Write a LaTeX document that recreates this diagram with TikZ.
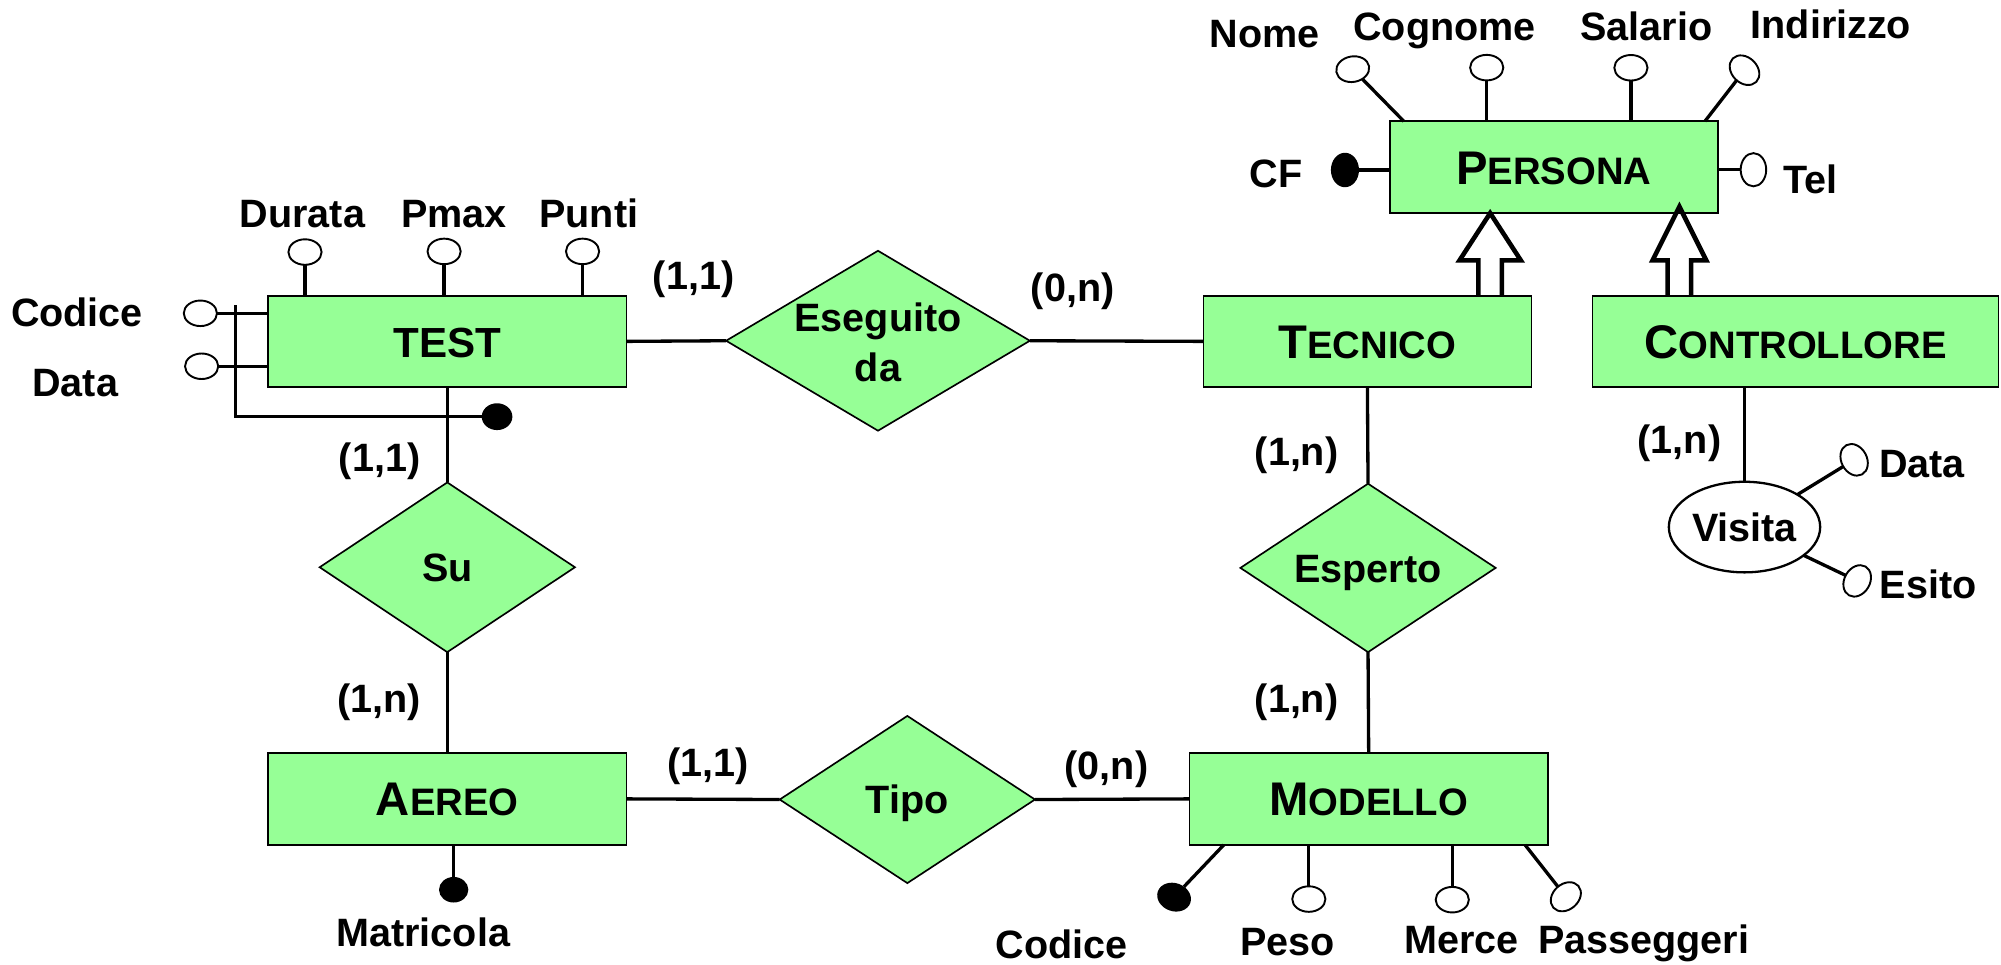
\documentclass[tikz,border=0pt]{standalone}
\usepackage{fontspec}
\setmainfont{Liberation Sans}
\usetikzlibrary{shapes.geometric,calc}
\definecolor{egreen}{RGB}{150,255,150}
\newcommand\lblfont{\fontsize{31pt}{37pt}\selectfont\bfseries}
\newcommand\entfont{\fontsize{30pt}{36pt}\selectfont\bfseries}
\newcommand\firstcap[1]{{\fontsize{37pt}{40pt}\selectfont #1}}
\begin{document}
\begin{tikzpicture}[x=1pt,y=-1pt,
  ent/.style={draw, line width=1.3pt, fill=egreen, minimum height=72pt, inner sep=0pt, outer sep=0pt, font=\entfont, text height=26.5pt, text depth=0pt},
  rel/.style={diamond, aspect=1.5, draw, line width=1.3pt, fill=egreen, inner sep=0pt, outer sep=0pt, font=\lblfont, text height=22.2pt, text depth=0pt},
  att/.style={ellipse, draw, line width=1.5pt, fill=white, minimum width=26pt, minimum height=20pt, inner sep=0pt, outer sep=0pt},
  keyatt/.style={ellipse, fill=black, minimum width=24pt, minimum height=21pt, inner sep=0pt, outer sep=0pt},
  lbl/.style={font=\lblfont, text height=22.2pt, text depth=0pt, inner sep=0pt},
  conn/.style={line width=2.6pt},
  isa/.style={line width=3.6pt, line join=miter, miter limit=10}
]
\useasboundingbox (0,0) rectangle (1568,756);

% entities
\node[ent, minimum width=281pt, minimum height=71pt, text height=24.5pt] (test) at (350.5,267.5) {\fontsize{33pt}{38pt}\selectfont TEST};
\node[ent, minimum width=281pt] (aereo) at (350.5,626) {\firstcap{A}EREO};
\node[ent, minimum width=281pt] (modello) at (1072.5,626) {\firstcap{M}ODELLO};
\node[ent, minimum width=257pt, minimum height=71pt] (tecnico) at (1071.5,267.5) {\firstcap{T}ECNICO};
\node[ent, minimum width=318pt, minimum height=71pt] (controllore) at (1407,267.5) {\firstcap{C}ONTROLLORE};
\node[ent, minimum width=257pt] (persona) at (1217.5,131) {\firstcap{P}ERSONA};

% relationships
\node[rel, minimum width=238pt, minimum height=141pt] (esg) at (688,267) {};
\node[lbl] (esgA) at (688,249) {Eseguito};
\node[lbl] (esgB) at (688,288) {da};
\node[rel, minimum width=200pt, minimum height=133pt] (su) at (350.5,444.5) {Su};
\node[rel, minimum width=200pt, minimum height=131pt] (tipo) at (711,626.5) {Tipo};
\node[rel, minimum width=200pt, minimum height=132pt] (esperto) at (1072,445) {Esperto};
\node[ellipse, draw, line width=1.8pt, fill=white, minimum width=118.6pt, minimum height=71pt, inner sep=0pt, outer sep=0pt, font=\lblfont, text height=22.2pt, text depth=0pt] (visita) at (1367,413) {Visita};

% relationship connectors
\draw[conn] (test.east) -- (esg.west);
\draw[conn] (esg.east) -- (tecnico.west);
\draw[conn] (test.south) -- (su.north);
\draw[conn] (su.south) -- (aereo.north);
\draw[conn] (aereo.east) -- (tipo.west);
\draw[conn] (tipo.east) -- (modello.west);
\draw[conn] (tecnico.south) -- (esperto.north);
\draw[conn] (esperto.south) -- (modello.north);
\draw[conn] (visita.north |- controllore.south) -- (visita.north);

% cardinalities
\node[lbl] (c1) at (543.5,215.5) {(1,1)};
\node[lbl] (c2) at (840.5,225) {(0,n)};
\node[lbl] (c3) at (297.4,358.5) {(1,1)};
\node[lbl] (c4) at (297,547) {(1,n)};
\node[lbl] (c5) at (555,597) {(1,1)};
\node[lbl] (c6) at (867,600) {(0,n)};
\node[lbl] (c7) at (1016,354) {(1,n)};
\node[lbl] (c8) at (1016,547) {(1,n)};
\node[lbl] (c9) at (1316,344.5) {(1,n)};

% TEST attributes
\node[att] (dur) at (239,197.5) {};
\node[att] (pmax) at (348,197) {};
\node[att] (punti) at (456.5,197) {};
\node[att] (tcod) at (157,245.5) {};
\node[att] (tdat) at (158,287) {};
\node[keyatt] (tid) at (389.5,326.5) {};
\coordinate (idtop) at (184.5,239);
\draw[conn] (dur.south) -- (dur.south |- test.north);
\draw[conn] (pmax.south) -- (pmax.south |- test.north);
\draw[conn] (punti.south) -- (punti.south |- test.north);
\draw[conn] (tcod.east) -- (tcod.east -| test.west);
\draw[conn] (tdat.east) -- (tdat.east -| test.west);
\draw[conn] (idtop) |- (tid.west);
\node[lbl] (lDurata) at (237,167.2) {Durata};
\node[lbl] (lPmax) at (355.9,167) {Pmax};
\node[lbl] (lPunti) at (461.4,167) {Punti};
\node[lbl] (lCodice) at (60.3,245) {Codice};
\node[lbl] (lData) at (59,299.7) {Data};

% PERSONA attributes
\node[att, rotate=10] (nome) at (1060,54.2) {};
\node[att] (cogn) at (1165,53) {};
\node[att] (sal) at (1278,53.1) {};
\node[att, rotate=-45] (ind) at (1367,55) {};
\node[keyatt, minimum width=27pt, minimum height=22pt, rotate=90] (cf) at (1053.9,133.2) {};
\node[att, rotate=90] (tel) at (1374,133) {};
\draw[conn] (nome) -- ($(persona.north west)+(11,0)$);
\draw[conn] (cogn.south) -- (cogn.south |- persona.north);
\draw[conn] (sal.south) -- (sal.south |- persona.north);
\draw[conn] (ind) -- ($(persona.north east)+(-10,0)$);
\draw[conn] (cf) -- (cf -| persona.west);
\draw[conn] (tel) -- (tel -| persona.east);
\node[lbl] (lNome) at (991,26) {Nome};
\node[lbl] (lCognome) at (1132,20.4) {Cognome};
\node[lbl] (lSalario) at (1290,20.4) {Salario};
\node[lbl] (lIndirizzo) at (1434.7,18.8) {Indirizzo};
\node[lbl] (lCF) at (1000,135.6) {CF};
\node[lbl] (lTel) at (1418.6,140.7) {Tel};

% ISA arrows
\coordinate (isa1) at (1167.7,167);
\coordinate (isa2) at (1316,162);
\draw[isa] ($(isa1 |- tecnico.north)+(-9.2,0)$) -- ($(isa1)+(-9.2,37)$) -- ($(isa1)+(-24,37)$) -- (isa1) -- ($(isa1)+(24,37)$) -- ($(isa1)+(9.2,37)$) -- ($(isa1 |- tecnico.north)+(9.2,0)$);
\draw[isa] ($(isa2 |- controllore.north)+(-9.2,0)$) -- ($(isa2)+(-9.2,42)$) -- ($(isa2)+(-21,42)$) -- (isa2) -- ($(isa2)+(21,42)$) -- ($(isa2)+(9.2,42)$) -- ($(isa2 |- controllore.north)+(9.2,0)$);

% AEREO attribute
\node[keyatt, minimum width=23pt, minimum height=20pt] (mat) at (355.5,697.2) {};
\draw[conn] (mat) -- (mat |- aereo.south);
\node[lbl] (lMatricola) at (331.6,730.7) {Matricola};

% MODELLO attributes
\node[keyatt, minimum width=27pt, minimum height=22pt, rotate=-20] (mcod) at (920,703) {};
\node[att] (peso) at (1025.6,704.5) {};
\node[att] (merce) at (1138,705) {};
\node[att, rotate=41] (pass) at (1227,702.7) {};
\draw[conn] ($(modello.south west)+(27,0)$) -- (mcod);
\draw[conn] (peso.north) -- (peso.north |- modello.south);
\draw[conn] (merce.north) -- (merce.north |- modello.south);
\draw[conn] ($(modello.south east)+(-18,0)$) -- (pass);
\node[lbl] (lCodice2) at (832,740) {Codice};
\node[lbl] (lPeso) at (1009,738) {Peso};
\node[lbl] (lMerce) at (1145.4,736) {Merce};
\node[lbl] (lPass) at (1288,736) {Passeggeri};

% Visita attributes
\node[att, rotate=-62] (vdata) at (1452.9,360.3) {};
\node[att, rotate=60] (vesito) at (1455.3,455.2) {};
\draw[conn] (visita) -- (vdata);
\draw[conn] (visita) -- (vesito);
\node[lbl] (lVData) at (1506,362.7) {Data};
\node[lbl] (lEsito) at (1511,458) {Esito};
\end{tikzpicture}
\end{document}
